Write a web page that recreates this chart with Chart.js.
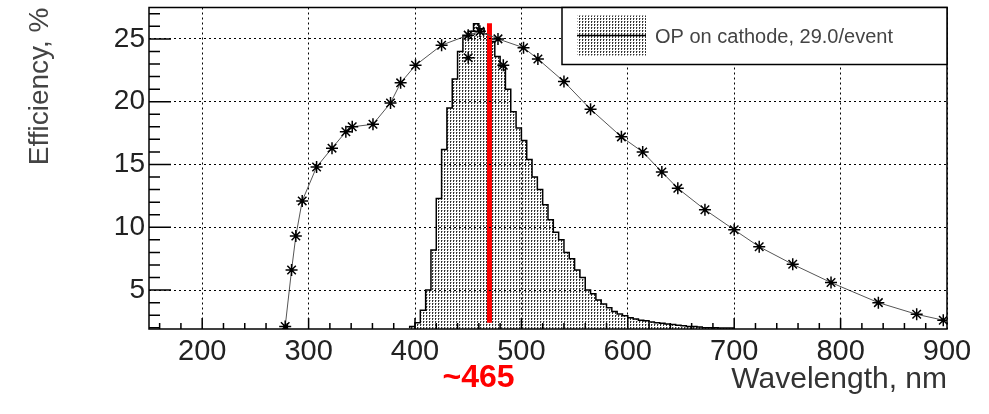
<!DOCTYPE html>
<html>
<head>
<meta charset="utf-8">
<title>Efficiency vs wavelength</title>
<script src="https://cdn.jsdelivr.net/npm/chart.js@4.4.1/dist/chart.umd.min.js"></script>
<style>
  html, body { margin: 0; padding: 0; background: #fff; }
</style>
</head>
<body>
<canvas id="qeChart" width="989" height="414"></canvas>
<script>
// Photocathode quantum efficiency, %
const qeWavelength = [278, 284, 288, 294, 307.5, 322, 335, 341, 360.5, 377, 386.5, 400.5, 425, 450, 461, 478,
                      502, 515.5, 540, 565, 594, 614, 632, 647, 672.5, 700, 723.5, 755, 791, 835.5, 871.5, 896.5];
const qeEfficiency = [2.1, 6.6, 9.3, 12.1, 14.8, 16.3, 17.6, 18.0, 18.2, 19.9, 21.5, 22.9, 24.5, 25.3, 25.6, 25.0,
                      24.3, 23.4, 21.6, 19.4, 17.2, 16.0, 14.4, 13.1, 11.4, 9.8, 8.45, 7.05, 5.6, 4.0, 3.07, 2.6];
// two repeated measurements near the peak
const qeExtraWavelength = [450, 483];
const qeExtraEfficiency = [23.5, 22.9];

// optical photons reaching the cathode, 5 nm bins (edges + contents)
const opBinEdges = [395, 400, 405, 410, 415, 420, 425, 430, 435, 440, 445, 450, 455, 460, 465, 470, 475, 480,
                    485, 490, 495, 500, 505, 510, 515, 520, 525, 530, 535, 540, 545, 550, 555, 560, 565, 570,
                    575, 580, 585, 590, 595, 600, 605, 610, 615, 620, 625, 630, 635, 640, 645, 650, 655, 660,
                    665, 670, 675, 680, 685, 690, 695, 700];
const opCounts = [1.95, 2.1, 2.4, 3.4, 5.0, 8.2, 12.3, 16.2, 19.5, 21.8, 24.0, 25.2, 25.6, 26.2, 25.8, 25.4, 24.8,
                  23.6, 22.8, 21.0, 19.2, 17.9, 16.9, 15.4, 14.0, 13.0, 11.8, 10.6, 9.6, 9.0, 8.0, 7.5, 6.6, 6.0,
                  5.0, 4.7, 4.2, 3.9, 3.6, 3.3, 3.1, 2.95, 2.8, 2.7, 2.6, 2.55, 2.45, 2.4, 2.35, 2.3, 2.25, 2.2,
                  2.15, 2.1, 2.1, 2.05, 2.0, 2.0, 2.0, 1.98, 1.97];
const opLabel = 'OP on cathode, 29.0/event';

// peak marker
const peakLineX = [470, 470];
const peakLineY = [2.4, 26.25];
const peakLabel = '~465';

const xTicks = [200, 300, 400, 500, 600, 700, 800, 900];
const yTicks = [5, 10, 15, 20, 25];

const FONT = 'Liberation Sans, Arial, Helvetica, sans-serif';

const canvas = document.getElementById('qeChart');
const ctx = canvas.getContext('2d');

// stipple fill like ROOT's dotted fill style
function dotPattern() {
    const tile = document.createElement('canvas');
    tile.width = 3;
    tile.height = 3;
    const g = tile.getContext('2d');
    g.fillStyle = '#333';
    g.fillRect(0, 0, 1, 2);
    g.fillStyle = '#aaa';
    g.fillRect(1, 0, 1, 1);
    return ctx.createPattern(tile, 'repeat');
}
const stipple = dotPattern();

const histPoints = opBinEdges.map((x, i) => ({ x: x, y: opCounts[Math.min(i, opCounts.length - 1)] }));
const qePoints = qeWavelength.map((x, i) => ({ x: x, y: qeEfficiency[i] }));
const qeExtraPoints = qeExtraWavelength.map((x, i) => ({ x: x, y: qeExtraEfficiency[i] }));
const peakPoints = peakLineX.map((x, i) => ({ x: x, y: peakLineY[i] }));

// frame, inward ticks, legend box and peak label
const rootStyle = {
    id: 'rootStyle',
    afterDraw(chart) {
        const c = chart.ctx;
        const a = chart.chartArea;
        const xs = chart.scales.x;
        const ys = chart.scales.y;
        c.save();

        // ticks
        c.strokeStyle = '#000';
        c.lineWidth = 1.5;
        c.beginPath();
        for (let v = 160; v < 900; v += 20) {
            const px = xs.getPixelForValue(v);
            const len = v % 100 === 0 ? 11 : 6;
            c.moveTo(px, a.bottom);
            c.lineTo(px, a.bottom - len);
        }
        for (let v = 2; v <= 27; v++) {
            const py = ys.getPixelForValue(v);
            const len = v % 5 === 0 ? 22 : 11;
            c.moveTo(a.left, py);
            c.lineTo(a.left + len, py);
        }
        c.stroke();

        // frame
        c.lineWidth = 1.5;
        c.strokeRect(a.left, a.top, a.right - a.left, a.bottom - a.top);

        // legend
        const lx = 562, ly = a.top, lw = a.right - 562, lh = 57;
        c.fillStyle = '#fff';
        c.fillRect(lx, ly, lw, lh);
        c.strokeStyle = '#000';
        c.lineWidth = 1.5;
        c.strokeRect(lx, ly, lw, lh);
        c.fillStyle = stipple;
        c.fillRect(lx + 15, ly + 8, 69, 40);
        c.lineWidth = 1.5;
        c.beginPath();
        c.moveTo(lx + 15, ly + 28);
        c.lineTo(lx + 84, ly + 28);
        c.stroke();
        c.fillStyle = '#444';
        c.font = '20px ' + FONT;
        c.textAlign = 'left';
        c.textBaseline = 'middle';
        c.fillText(opLabel, lx + 93, ly + 30);

        // peak label under the axis
        c.fillStyle = '#ff0000';
        c.font = 'bold 32px ' + FONT;
        c.textAlign = 'center';
        c.fillText(peakLabel, xs.getPixelForValue(peakLineX[0]) - 11, 378);
        c.restore();
    }
};

new Chart(ctx, {
    type: 'scatter',
    data: {
        datasets: [
            {
                type: 'line',
                label: 'QE',
                data: qePoints,
                order: 0,
                borderColor: '#555',
                borderWidth: 1,
                tension: 0,
                fill: false,
                pointStyle: 'star',
                pointRadius: 6,
                pointBorderWidth: 1.5,
                pointBorderColor: '#000',
                pointBackgroundColor: '#000'
            },
            {
                type: 'scatter',
                label: 'QE repeat',
                data: qeExtraPoints,
                order: 0,
                pointStyle: 'star',
                pointRadius: 6,
                pointBorderWidth: 1.5,
                borderColor: '#000',
                backgroundColor: '#000'
            },
            {
                type: 'line',
                label: 'peak',
                data: peakPoints,
                order: 1,
                borderColor: '#ff0000',
                borderWidth: 5,
                pointRadius: 0,
                fill: false
            },
            {
                type: 'line',
                label: opLabel,
                data: histPoints,
                order: 2,
                stepped: 'after',
                borderColor: '#000',
                borderWidth: 1.5,
                backgroundColor: stipple,
                fill: 'origin',
                pointRadius: 0
            }
        ]
    },
    options: {
        responsive: false,
        animation: false,
        devicePixelRatio: 1,
        layout: { padding: { left: 0, right: 42, top: 7, bottom: 0 } },
        plugins: {
            legend: { display: false },
            tooltip: { enabled: false }
        },
        scales: {
            x: {
                type: 'linear',
                min: 150,
                max: 900,
                afterBuildTicks: s => { s.ticks = xTicks.map(v => ({ value: v })); },
                afterFit: s => { s.height = 85; s.paddingLeft = 0; s.paddingRight = 0; },
                grid: { color: '#000', lineWidth: 1, drawTicks: false, z: 1 },
                border: { display: false, dash: [2, 3] },
                ticks: {
                    font: { family: FONT, size: 29 },
                    color: '#222',
                    padding: 6,
                    maxRotation: 0,
                    autoSkip: false
                },
                title: {
                    display: true,
                    text: 'Wavelength, nm',
                    align: 'end',
                    color: '#333',
                    font: { family: FONT, size: 30 },
                    padding: { top: 0, bottom: 16 }
                }
            },
            y: {
                type: 'linear',
                min: 1.9,
                max: 27.5,
                afterBuildTicks: s => { s.ticks = yTicks.map(v => ({ value: v })); },
                afterFit: s => { s.width = 149; s.paddingTop = 0; s.paddingBottom = 0; },
                grid: { color: '#000', lineWidth: 1, drawTicks: false, z: 1 },
                border: { display: false, dash: [2, 3] },
                ticks: {
                    font: { family: FONT, size: 28 },
                    color: '#222',
                    padding: 4
                },
                title: {
                    display: true,
                    text: 'Efficiency, %',
                    align: 'end',
                    color: '#444',
                    font: { family: FONT, size: 28 },
                    padding: { top: 23, bottom: 0 }
                }
            }
        }
    },
    plugins: [rootStyle]
});
</script>
</body>
</html>
